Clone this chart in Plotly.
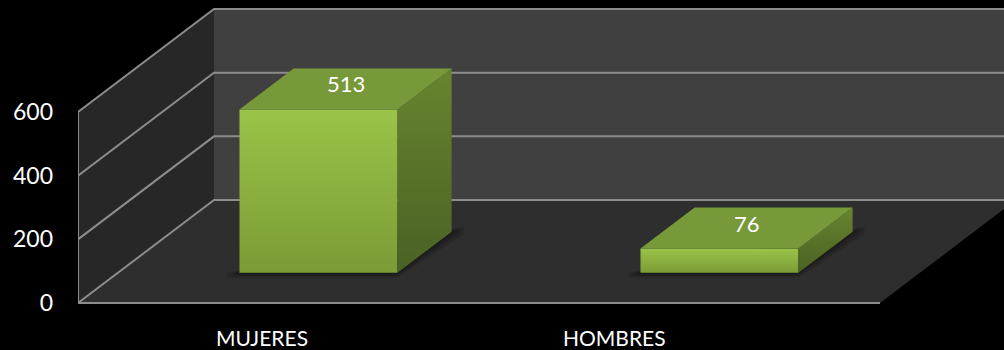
import plotly.graph_objects as go

# ---- data ----
categories = ["MUJERES", "HOMBRES"]
values = [513, 76]
y_ticks = [0, 200, 400, 600]
y_tick_labels = ["0", "200", "400", "600"]
y_max = 600

# ---- geometry / style constants (layout only) ----
K = 191 / 600.0            # px per value unit on the front plane
DX = 136 / 401.0           # depth offset in category units
DY = 103 / K               # depth offset in value units
D0, D1 = 0.294, 0.692      # bar depth (front, back)
HW = 0.197                 # bar half width (category units)
X_MIN = -0.5
X_MAX = -0.5 + 926 / 401.0
Y_MIN = -47 / K
Y_MAX = 303 / K
LABEL_U = [-0.04, 0.837]   # category label positions (as drawn by the original)

fig = go.Figure()

def poly(xs, ys, color=None, grad=None, line=None):
    kw = dict(x=list(xs) + [xs[0]], y=list(ys) + [ys[0]], mode="lines",
              fill="toself", hoverinfo="skip", showlegend=False)
    kw["line"] = line if line else dict(width=0, color="rgba(0,0,0,0)")
    if grad:
        kw["fillgradient"] = dict(type="vertical", colorscale=grad)
        kw["fillcolor"] = grad[-1][1]
    else:
        kw["fillcolor"] = color
    fig.add_trace(go.Scatter(**kw))

n = len(categories)
u_left, u_right = -0.5, n - 0.5

# back wall
poly([u_left + DX, u_right + DX + 0.5, u_right + DX + 0.5, u_left + DX],
     [DY, DY, DY + y_max, DY + y_max], color="#404040")
# left wall
poly([u_left, u_left + DX, u_left + DX, u_left],
     [0, DY, DY + y_max, y_max], color="#272727")
# floor
poly([u_left, u_right, u_right + DX, u_left + DX],
     [0, 0, DY, DY], color="#2e2e2e")

GRID = dict(color="#8c8c8c", width=2)
for t in y_ticks:
    fig.add_trace(go.Scatter(x=[u_left, u_left + DX, u_right + DX + 0.5],
                             y=[t, t + DY, t + DY], mode="lines", line=GRID,
                             hoverinfo="skip", showlegend=False))
# front edges
fig.add_trace(go.Scatter(x=[u_left, u_left, u_right], y=[y_max, 0, 0], mode="lines",
                         line=GRID, hoverinfo="skip", showlegend=False))

# bars
for i, v in enumerate(values):
    xl0 = i - HW + D0 * DX
    xr0 = i + HW + D0 * DX
    xl1 = i - HW + D1 * DX
    xr1 = i + HW + D1 * DX
    b0 = D0 * DY
    b1 = D1 * DY
    # soft shadow on the floor (layered for a blur look)
    for s in (1.0, 0.6, 0.3):
        ex = 0.03 * s
        ey = 5 * s / K
        poly([xl0 - ex, xr0, xr1 + ex, xr1 + ex, xl0 - ex],
             [b0 - ey, b0 - ey, b1 - ey * 0.5, b1 + ey, b0],
             color="rgba(0,0,0,0.14)")
    # front face
    poly([xl0, xr0, xr0, xl0], [b0, b0, b0 + v, b0 + v],
         grad=[[0, "#7b9b35"], [1, "#9ac449"]])
    # side face
    poly([xr0, xr1, xr1, xr0], [b0, b1, b1 + v, b0 + v],
         grad=[[0, "#4a6124"], [1, "#67852f"]])
    # top face
    poly([xl0, xr0, xr1, xl1], [b0 + v, b0 + v, b1 + v, b1 + v], color="#77993a")
    # data label
    fig.add_annotation(x=i + (D0 + D1) / 2 * DX, y=(b0 + b1) / 2 + v, text=str(v),
                       showarrow=False, yshift=5,
                       font=dict(family="Lato", size=22, color="white"))

for i, c in enumerate(categories):
    fig.add_annotation(x=LABEL_U[i], y=0, text=c, showarrow=False, yshift=-34,
                       font=dict(family="Lato", size=21, color="white"))

fig.update_layout(
    width=1004, height=350,
    margin=dict(l=78, r=0, t=0, b=0),
    paper_bgcolor="black", plot_bgcolor="black",
    xaxis=dict(range=[X_MIN, X_MAX], visible=False, fixedrange=True),
    yaxis=dict(range=[Y_MIN, Y_MAX], showgrid=False, zeroline=False, showline=False,
               tickvals=y_ticks, ticktext=y_tick_labels, ticks="",
               ticklabelstandoff=24,
               tickfont=dict(family="Lato", size=23, color="white"), fixedrange=True),
    font=dict(family="Lato", color="white"),
)

fig.write_html("out.html")
